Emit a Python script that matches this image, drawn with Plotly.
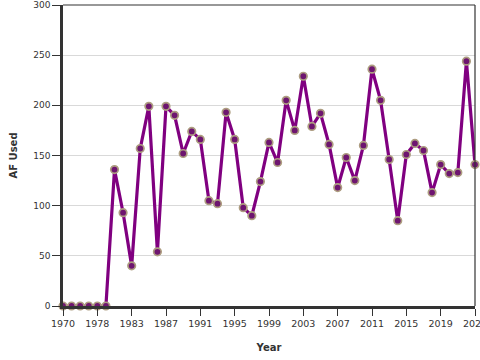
import plotly.graph_objects as go

years = ["1970", "1972", "1974", "1976", "1978", "1979", "1980", "1981"] + [str(y) for y in range(1983, 2024)]
af_used = [0, 0, 0, 0, 0, 0, 136, 93, 40, 157, 199, 54, 199, 190, 152, 174,
           166, 105, 102, 193, 166, 98, 90, 124, 163, 143, 205, 175, 229, 179,
           192, 161, 118, 148, 125, 160, 236, 205, 146, 85, 151, 162, 155, 113,
           141, 132, 133, 244, 141]
y_ticks = [0, 50, 100, 150, 200, 250, 300]

fig = go.Figure()
fig.add_trace(go.Scatter(
    x=years, y=af_used, mode="lines+markers",
    line=dict(color="#800080", width=3.2),
    marker=dict(size=7.5, color="#6e1570", line=dict(color="#ad9d80", width=1.7)),
    cliponaxis=False, showlegend=False,
))

font = "DejaVu Sans, sans-serif"
fig.update_layout(
    width=480, height=360,
    margin=dict(l=63, r=5, t=4.5, b=53.5),
    paper_bgcolor="white", plot_bgcolor="white",
    font=dict(family=font, size=9.5, color="#333333"),
    xaxis=dict(
        type="category", range=[0, len(years) - 1], automargin=False,
        tickmode="linear", tick0=0, dtick=4,
        showgrid=False, showline=True, linecolor="#333333", linewidth=2.5,
        ticks="outside", ticklen=7, tickcolor="#333333", tickwidth=1,
        tickfont=dict(family=font, size=9.5, color="#333333"),
        title=dict(text="<b>Year</b>", font=dict(family=font, size=10, color="#333333"), standoff=16),
        zeroline=False,
    ),
    yaxis=dict(
        range=[0, 300], tickvals=y_ticks, automargin=False,
        showgrid=True, gridcolor="#d9d9d9", gridwidth=1,
        showline=True, linecolor="#333333", linewidth=2.5,
        ticks="outside", ticklen=8, tickcolor="#333333", tickwidth=1,
        tickfont=dict(family=font, size=9, color="#333333"),
        title=dict(text="<b>AF Used</b>", font=dict(family=font, size=10, color="#333333"), standoff=14),
        zeroline=False,
    ),
    shapes=[
        dict(type="line", xref="paper", yref="paper", x0=0, x1=1, y0=1, y1=1,
             line=dict(color="#333333", width=1.2), layer="above"),
        dict(type="line", xref="paper", yref="paper", x0=1, x1=1, y0=0, y1=1,
             line=dict(color="#333333", width=1.2), layer="above"),
    ],
)

fig.write_html("out.html", config={"displayModeBar": False},
               post_script="document.body.style.margin='0';document.body.style.overflow='hidden';")
